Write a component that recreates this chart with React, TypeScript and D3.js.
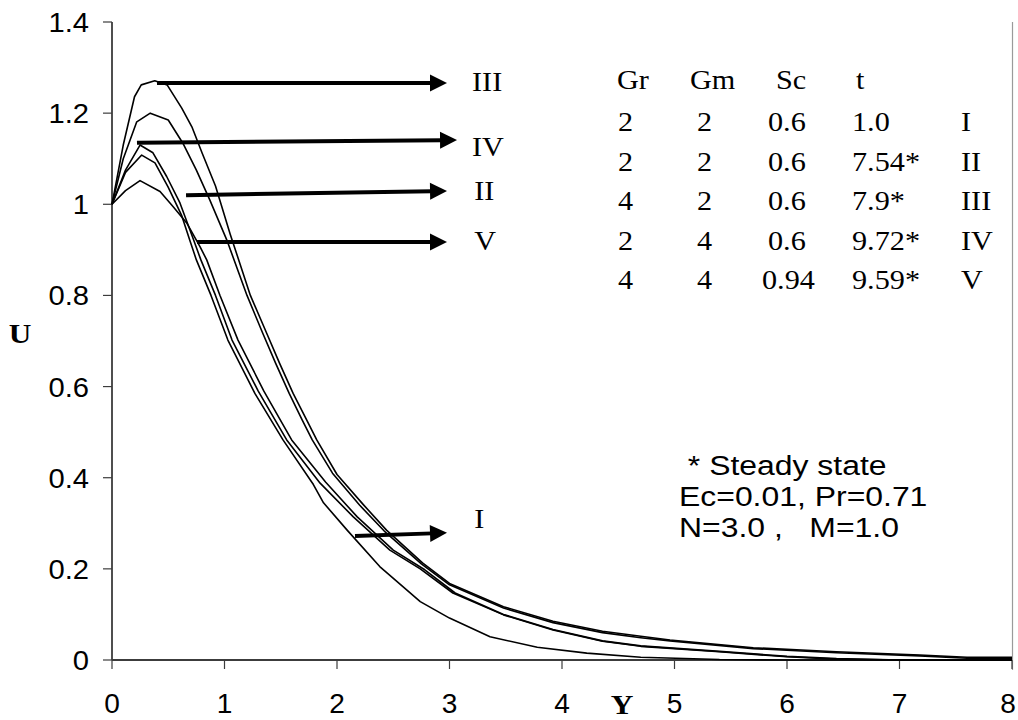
import React from 'react';
import * as d3 from 'd3';

type Pt = [number, number];

// Axis ticks
const xTicks: number[] = [0, 1, 2, 3, 4, 5, 6, 7, 8];
const yTicks: number[] = [0, 0.2, 0.4, 0.6, 0.8, 1, 1.2, 1.4];
const yTickLabels: string[] = ['0', '0.2', '0.4', '0.6', '0.8', '1', '1.2', '1.4'];

// Velocity profiles U(Y)
const profileIII: Pt[] = [
  [0, 1], [0.1, 1.13], [0.2, 1.236], [0.26, 1.262], [0.38, 1.271], [0.49, 1.262],
  [0.62, 1.211], [0.71, 1.17], [0.8, 1.113], [0.92, 1.04], [1.05, 0.935], [1.23, 0.8],
  [1.375, 0.717], [1.49, 0.651], [1.61, 0.585], [1.73, 0.527], [1.82, 0.483], [2.0, 0.407],
  [2.23, 0.342], [2.44, 0.285], [2.76, 0.213], [3.0, 0.168], [3.48, 0.117], [3.92, 0.085],
  [4.36, 0.063], [4.7, 0.052], [4.96, 0.044], [5.7, 0.027], [6.44, 0.018], [7.18, 0.011],
  [7.6, 0.006], [8, 0.006],
];
const profileII: Pt[] = [
  [0, 1], [0.1, 1.1], [0.22, 1.181], [0.34, 1.2], [0.5, 1.185], [0.63, 1.134],
  [0.75, 1.075], [0.87, 1.009], [1.02, 0.922], [1.2, 0.8], [1.34, 0.717], [1.455, 0.651],
  [1.575, 0.585], [1.69, 0.527], [1.78, 0.483], [1.96, 0.41], [2.2, 0.34], [2.42, 0.283],
  [2.75, 0.211], [3.0, 0.165], [3.48, 0.114], [3.92, 0.082], [4.36, 0.06], [4.7, 0.049],
  [4.96, 0.042], [5.7, 0.025], [6.44, 0.016], [7.18, 0.009], [7.6, 0.004], [8, 0.004],
];
const profileIV: Pt[] = [
  [0, 1], [0.12, 1.075], [0.249, 1.13], [0.364, 1.113], [0.486, 1.061], [0.604, 1.003],
  [0.725, 0.922], [0.79, 0.878], [0.92, 0.8], [1.067, 0.702], [1.3, 0.59], [1.553, 0.483],
  [1.85, 0.388], [2.145, 0.314], [2.47, 0.241], [2.74, 0.2], [3.03, 0.147], [3.48, 0.099],
  [3.92, 0.066], [4.36, 0.041], [4.7, 0.03], [5.4, 0.018], [6.0, 0.007], [6.44, 0.002],
  [7, 0], [8, 0],
];
const profileI: Pt[] = [
  [0, 1], [0.12, 1.07], [0.264, 1.108], [0.382, 1.091], [0.498, 1.038], [0.62, 0.975],
  [0.69, 0.922], [0.75, 0.878], [0.88, 0.8], [1.03, 0.702], [1.27, 0.585], [1.52, 0.483],
  [1.79, 0.385], [1.88, 0.345], [2.09, 0.285], [2.38, 0.205], [2.74, 0.128], [3.0, 0.092],
  [3.36, 0.051], [3.78, 0.028], [4.22, 0.015], [4.7, 0.006], [5.4, 0.001], [6, 0], [8, 0],
];
const profileV: Pt[] = [
  [0, 1], [0.12, 1.03], [0.249, 1.052], [0.427, 1.028], [0.542, 0.995], [0.664, 0.959],
  [0.782, 0.907], [0.842, 0.878], [0.96, 0.8], [1.12, 0.702], [1.35, 0.59], [1.597, 0.483],
  [1.9, 0.39], [2.18, 0.314], [2.5, 0.241], [2.78, 0.198], [3.05, 0.147], [3.48, 0.1],
  [3.92, 0.067], [4.36, 0.042], [4.7, 0.031], [5.4, 0.019], [6.0, 0.008], [6.44, 0.003],
  [7, 0], [8, 0],
];
const profiles: Pt[][] = [profileIII, profileII, profileIV, profileI, profileV];

// Pointer arrows: tail, tip (data units) and the case label beside each tip
const arrowNames: string[] = ['III', 'IV', 'II', 'V', 'I'];
const arrowTails: Pt[] = [[0.4, 1.266], [0.222, 1.135], [0.658, 1.02], [0.756, 0.917], [2.16, 0.272]];
const arrowTips: Pt[] = [[2.978, 1.266], [3.067, 1.141], [2.978, 1.029], [2.978, 0.917], [2.978, 0.279]];
const arrowLabelPos: Pt[] = [[3.2, 1.248], [3.2, 1.106], [3.22, 1.01], [3.22, 0.9], [3.22, 0.29]];

// Parameter table
const tableHeader: string[] = ['Gr', 'Gm', 'Sc', 't'];
const colGr: string[] = ['2', '2', '4', '2', '4'];
const colGm: string[] = ['2', '2', '2', '4', '4'];
const colSc: string[] = ['0.6', '0.6', '0.6', '0.6', '0.94'];
const colT: string[] = ['1.0', '7.54*', '7.9*', '9.72*', '9.59*'];
const colCase: string[] = ['I', 'II', 'III', 'IV', 'V'];

const notes: string[] = [' * Steady state', 'Ec=0.01, Pr=0.71', 'N=3.0 ,   M=1.0'];

const SANS = '"Liberation Sans", Arial, sans-serif';
const SERIF = '"Liberation Serif", "Times New Roman", serif';
const STRETCH = 1.12;

type TProps = {
  x: number;
  y: number;
  size?: number;
  family?: string;
  anchor?: 'start' | 'middle' | 'end';
  bold?: boolean;
  sx?: number;
  children: React.ReactNode;
};

// Text drawn with the slightly wide glyph proportions of the figure
function T({ x, y, size = 27, family = SERIF, anchor = 'start', bold = false, sx = STRETCH, children }: TProps) {
  return (
    <text
      transform={`translate(${x},${y}) scale(${sx},1)`}
      textAnchor={anchor}
      fontFamily={family}
      fontSize={size}
      fontWeight={bold ? 'bold' : 'normal'}
      fill="#000"
      style={{ whiteSpace: 'pre' }}
    >
      {children}
    </text>
  );
}

export default function App() {
  const x = d3.scaleLinear().domain([0, 8]).range([112, 1012]);
  const y = d3.scaleLinear().domain([0, 1.4]).range([660, 22]);
  const line = d3.line<Pt>().x(d => x(d[0])).y(d => y(d[1])).curve(d3.curveLinear);

  const headLen = 17;
  const headHalf = 8.5;

  const headerX = [617, 690, 776, 856];
  const colX = [618, 697, 768, 852, 961];
  const headerY = 89;
  const rowY = [131, 171, 210, 250, 289];

  return (
    <svg width={1018} height={720} style={{ position: 'absolute', left: 0, top: 0, background: '#fff' }}>
      <rect x={0} y={0} width={1018} height={720} fill="#fff" />

      {/* right plot edge */}
      <line x1={1012.5} x2={1012.5} y1={22} y2={670} stroke="#9a9a9a" strokeWidth={1.2} />

      {/* axes */}
      <line x1={112} x2={112} y1={y(1.4)} y2={y(0)} stroke="#3c3c3c" strokeWidth={1.8} />
      <line x1={112} x2={1012} y1={y(0)} y2={y(0)} stroke="#3c3c3c" strokeWidth={1.8} />
      {yTicks.map((t, i) => (
        <g key={'yt' + i}>
          <line x1={103} x2={112} y1={y(t)} y2={y(t)} stroke="#3c3c3c" strokeWidth={1.2} />
          <T x={89} y={y(t) + 10} family={SANS} anchor="end" sx={1.08}>{yTickLabels[i]}</T>
        </g>
      ))}
      {xTicks.map((t, i) => (
        <g key={'xt' + i}>
          <line x1={x(t)} x2={x(t)} y1={660} y2={669} stroke="#3c3c3c" strokeWidth={1.2} />
          <T x={Math.min(x(t), 1008)} y={713} family={SANS} anchor="middle" sx={1.04}>{String(t)}</T>
        </g>
      ))}
      <T x={622} y={714} anchor="middle" bold size={28}>Y</T>
      <T x={20} y={343} anchor="middle" bold size={28}>U</T>

      {/* profiles */}
      {profiles.map((p, i) => (
        <path key={'p' + i} d={line(p) || ''} fill="none" stroke="#000" strokeWidth={1.6} strokeLinejoin="round" />
      ))}

      {/* arrows */}
      {arrowNames.map((name, i) => {
        const x0 = x(arrowTails[i][0]);
        const y0 = y(arrowTails[i][1]);
        const x1 = x(arrowTips[i][0]);
        const y1 = y(arrowTips[i][1]);
        const ang = Math.atan2(y1 - y0, x1 - x0);
        const bx = x1 - headLen * Math.cos(ang);
        const by = y1 - headLen * Math.sin(ang);
        const nx = -Math.sin(ang) * headHalf;
        const ny = Math.cos(ang) * headHalf;
        return (
          <g key={'a' + i}>
            <line x1={x0} y1={y0} x2={bx + 2 * Math.cos(ang)} y2={by + 2 * Math.sin(ang)} stroke="#000" strokeWidth={4} />
            <polygon points={`${x1},${y1} ${bx + nx},${by + ny} ${bx - nx},${by - ny}`} fill="#000" />
            <T x={x(arrowLabelPos[i][0])} y={y(arrowLabelPos[i][1])}>{name}</T>
          </g>
        );
      })}

      {/* parameter table */}
      {tableHeader.map((h, i) => (
        <T key={'h' + i} x={headerX[i]} y={headerY}>{h}</T>
      ))}
      {colGr.map((_, r) => (
        <g key={'r' + r}>
          <T x={colX[0]} y={rowY[r]}>{colGr[r]}</T>
          <T x={colX[1]} y={rowY[r]}>{colGm[r]}</T>
          <T x={colSc[r].length > 3 ? colX[2] - 6 : colX[2]} y={rowY[r]}>{colSc[r]}</T>
          <T x={colX[3]} y={rowY[r]}>{colT[r]}</T>
          <T x={colX[4]} y={rowY[r]}>{colCase[r]}</T>
        </g>
      ))}

      {/* notes */}
      {notes.map((n, i) => (
        <T key={'n' + i} x={679} y={475 + i * 31} size={28} family={SANS} sx={1.14}>{n}</T>
      ))}
    </svg>
  );
}
